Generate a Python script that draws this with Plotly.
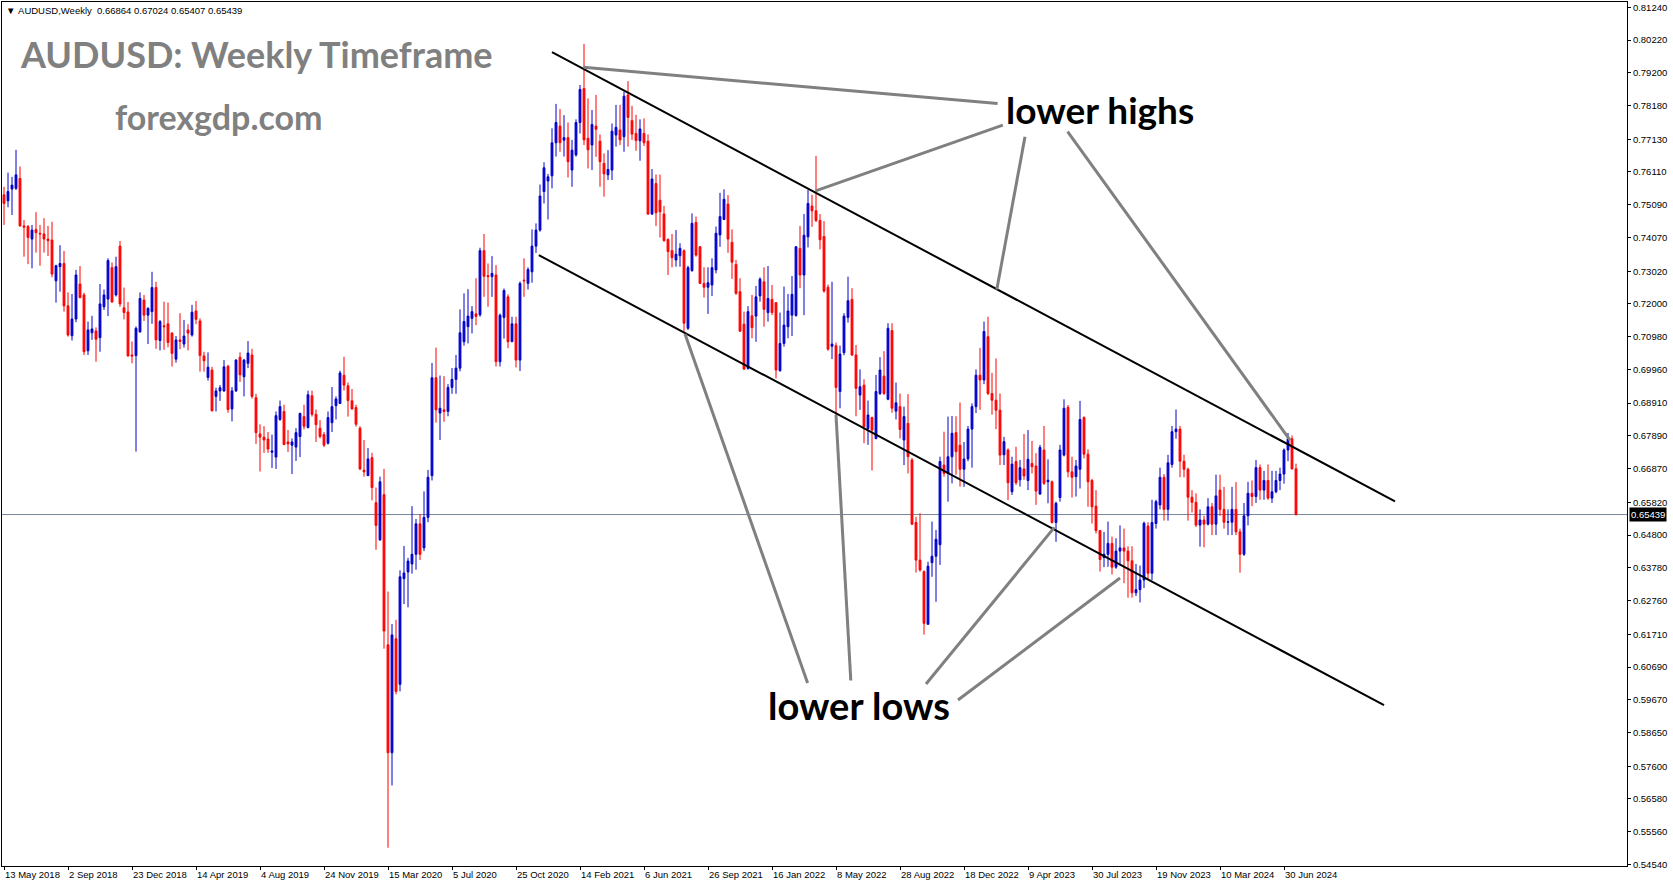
import pandas as pd
import plotly.graph_objects as go

# ---------------- weekly OHLC (AUDUSD, MT4 weekly bars starting 13 May 2018) ----------------
open_ = [
    0.7540, 0.7521, 0.7558, 0.7560, 0.7591, 0.7443, 0.7441, 0.7402, 0.7432, 0.7420,
    0.7418, 0.7402, 0.7399, 0.7272, 0.7316, 0.7326, 0.7194, 0.7101, 0.7153, 0.7262,
    0.7228, 0.7054, 0.7110, 0.7116, 0.7095, 0.7191, 0.7215, 0.7313, 0.7228, 0.7380,
    0.7188, 0.7175, 0.7041, 0.7039, 0.7113, 0.7212, 0.7165, 0.7176, 0.7251, 0.7086,
    0.7132, 0.7138, 0.7109, 0.7028, 0.7088, 0.7075, 0.7119, 0.7103, 0.7178, 0.7147,
    0.7038, 0.6971, 0.6994, 0.6912, 0.6929, 0.6929, 0.7006, 0.6873, 0.6929, 0.7034,
    0.6973, 0.7015, 0.7041, 0.6908, 0.6795, 0.6785, 0.6779, 0.6738, 0.6723, 0.6840,
    0.6865, 0.6770, 0.6760, 0.6754, 0.6787, 0.6849, 0.6815, 0.6914, 0.6856, 0.6813,
    0.6793, 0.6766, 0.6830, 0.6883, 0.6890, 0.6978, 0.6945, 0.6898, 0.6877, 0.6813,
    0.6682, 0.6665, 0.6721, 0.6581, 0.6465, 0.6606, 0.6138, 0.5802, 0.6157, 0.6015,
    0.6344, 0.6365, 0.6390, 0.6420, 0.6515, 0.6440, 0.6535, 0.6665, 0.6970, 0.6860,
    0.6870, 0.6865, 0.6940, 0.6965, 0.7000, 0.7082, 0.7129, 0.7155, 0.7169, 0.7166,
    0.7366, 0.7288, 0.7285, 0.7290, 0.7020, 0.7158, 0.7222, 0.7083, 0.7138, 0.7025,
    0.7274, 0.7264, 0.7300, 0.7380, 0.7430, 0.7550, 0.7583, 0.7599, 0.7702, 0.7754,
    0.7710, 0.7718, 0.7617, 0.7664, 0.7765, 0.7871, 0.7716, 0.7695, 0.7754, 0.7707,
    0.7638, 0.7602, 0.7617, 0.7726, 0.7742, 0.7721, 0.7851, 0.7771, 0.7731, 0.7708,
    0.7731, 0.7707, 0.7480, 0.7575, 0.7523, 0.7480, 0.7401, 0.7366, 0.7337, 0.7350,
    0.7366, 0.7124, 0.7304, 0.7454, 0.7378, 0.7264, 0.7252, 0.7259, 0.7306, 0.7415,
    0.7463, 0.7511, 0.7392, 0.7323, 0.7238, 0.7137, 0.6999, 0.7163, 0.7162, 0.7225,
    0.7269, 0.7173, 0.7214, 0.7204, 0.6992, 0.7077, 0.7129, 0.7165, 0.7164, 0.7373,
    0.7290, 0.7409, 0.7505, 0.7490, 0.7460, 0.7410, 0.7252, 0.7068, 0.7070, 0.6927,
    0.7048, 0.7158, 0.7214, 0.7041, 0.6916, 0.6947, 0.6812, 0.6846, 0.6781, 0.6921,
    0.6975, 0.6903, 0.7117, 0.6866, 0.6880, 0.6776, 0.6828, 0.6714, 0.6519, 0.6402,
    0.6366, 0.6202, 0.6394, 0.6414, 0.6450, 0.6698, 0.6672, 0.6724, 0.6799, 0.6760,
    0.6685, 0.6717, 0.6810, 0.6880, 0.6978, 0.6963, 0.7098, 0.6921, 0.6900, 0.6869,
    0.6730, 0.6745, 0.6615, 0.6709, 0.6652, 0.6686, 0.6650, 0.6703, 0.6695, 0.6608,
    0.6745, 0.6646, 0.6646, 0.6519, 0.6597, 0.6729, 0.6878, 0.6677, 0.6662, 0.6685,
    0.6846, 0.6732, 0.6650, 0.6570, 0.6494, 0.6410, 0.6420, 0.6454, 0.6380, 0.6430,
    0.6440, 0.6430, 0.6400, 0.6300, 0.6310, 0.6340, 0.6508, 0.6361, 0.6516, 0.6574,
    0.6660, 0.6560, 0.6700, 0.6802, 0.6810, 0.6710, 0.6685, 0.6598, 0.6582, 0.6511,
    0.6527, 0.6514, 0.6568, 0.6514, 0.6620, 0.6560, 0.6520, 0.6520, 0.6560, 0.6490,
    0.6420, 0.6540, 0.6610, 0.6600, 0.6690, 0.6620, 0.6650, 0.6595, 0.6615, 0.6650,
    0.6670, 0.6745, 0.6780, 0.66864,
]
high_ = [
    0.7565, 0.7609, 0.7596, 0.7680, 0.7628, 0.7461, 0.7446, 0.7446, 0.7486, 0.7446,
    0.7467, 0.7443, 0.7456, 0.7322, 0.7383, 0.7365, 0.7236, 0.7231, 0.7306, 0.7318,
    0.7235, 0.7145, 0.7163, 0.7127, 0.7262, 0.7245, 0.7342, 0.7329, 0.7347, 0.7396,
    0.7251, 0.7206, 0.7083, 0.7130, 0.7236, 0.7228, 0.7190, 0.7300, 0.7269, 0.7150,
    0.7207, 0.7204, 0.7112, 0.7100, 0.7171, 0.7150, 0.7137, 0.7197, 0.7209, 0.7155,
    0.7051, 0.7049, 0.7004, 0.6939, 0.6947, 0.7025, 0.7010, 0.6941, 0.7028, 0.7049,
    0.7029, 0.7084, 0.7060, 0.6920, 0.6825, 0.6819, 0.6801, 0.6793, 0.6865, 0.6899,
    0.6886, 0.6807, 0.6781, 0.6813, 0.6861, 0.6886, 0.6930, 0.6930, 0.6871, 0.6838,
    0.6801, 0.6865, 0.6941, 0.6912, 0.6992, 0.7035, 0.6955, 0.6935, 0.6886, 0.6819,
    0.6776, 0.6751, 0.6736, 0.6628, 0.6662, 0.6686, 0.6304, 0.6203, 0.6216, 0.6370,
    0.6446, 0.6409, 0.6570, 0.6530, 0.6545, 0.6616, 0.6683, 0.7016, 0.7064, 0.6977,
    0.6975, 0.6950, 0.7000, 0.7041, 0.7183, 0.7233, 0.7246, 0.7193, 0.7280, 0.7375,
    0.7418, 0.7326, 0.7349, 0.7321, 0.7170, 0.7248, 0.7230, 0.7160, 0.7160, 0.7270,
    0.7342, 0.7314, 0.7432, 0.7451, 0.7572, 0.7641, 0.7605, 0.7747, 0.7823, 0.7807,
    0.7788, 0.7765, 0.7711, 0.7775, 0.7882, 0.8010, 0.7840, 0.7804, 0.7851, 0.7728,
    0.7669, 0.7679, 0.7762, 0.7820, 0.7820, 0.7861, 0.7894, 0.7817, 0.7789, 0.7775,
    0.7778, 0.7728, 0.7620, 0.7603, 0.7603, 0.7505, 0.7404, 0.7418, 0.7430, 0.7389,
    0.7370, 0.7319, 0.7482, 0.7472, 0.7380, 0.7314, 0.7314, 0.7342, 0.7441, 0.7546,
    0.7557, 0.7539, 0.7432, 0.7337, 0.7280, 0.7176, 0.7193, 0.7228, 0.7256, 0.7283,
    0.7314, 0.7318, 0.7259, 0.7206, 0.7173, 0.7254, 0.7231, 0.7287, 0.7380, 0.7443,
    0.7480, 0.7555, 0.7540, 0.7661, 0.7480, 0.7458, 0.7260, 0.7269, 0.7080, 0.7070,
    0.7171, 0.7285, 0.7249, 0.7072, 0.6996, 0.6965, 0.6899, 0.6849, 0.6979, 0.7034,
    0.7053, 0.7140, 0.7140, 0.6955, 0.6921, 0.6880, 0.6919, 0.6720, 0.6537, 0.6548,
    0.6370, 0.6397, 0.6522, 0.6496, 0.6724, 0.6802, 0.6849, 0.6851, 0.6850, 0.6893,
    0.6770, 0.6820, 0.6890, 0.6996, 0.7063, 0.7145, 0.7160, 0.6985, 0.7030, 0.6921,
    0.6786, 0.6750, 0.6724, 0.6755, 0.6714, 0.6795, 0.6807, 0.6773, 0.6735, 0.6761,
    0.6820, 0.6716, 0.6650, 0.6584, 0.6761, 0.6903, 0.6885, 0.6724, 0.6714, 0.6898,
    0.6850, 0.6747, 0.6655, 0.6620, 0.6496, 0.6490, 0.6522, 0.6475, 0.6470, 0.6510,
    0.6500, 0.6445, 0.6445, 0.6390, 0.6385, 0.6522, 0.6520, 0.6590, 0.6590, 0.6690,
    0.6670, 0.6730, 0.6820, 0.6871, 0.6820, 0.6730, 0.6690, 0.6620, 0.6610, 0.6560,
    0.6540, 0.6595, 0.6580, 0.6668, 0.6668, 0.6630, 0.6560, 0.6630, 0.6645, 0.6500,
    0.6580, 0.6646, 0.6650, 0.6714, 0.6700, 0.6680, 0.6700, 0.6680, 0.6680, 0.6690,
    0.6750, 0.6798, 0.6790, 0.67024,
]
low_ = [
    0.7446, 0.7501, 0.7477, 0.7555, 0.7441, 0.7347, 0.7324, 0.7311, 0.7360, 0.7319,
    0.7360, 0.7349, 0.7283, 0.7204, 0.7238, 0.7176, 0.7098, 0.7086, 0.7143, 0.7217,
    0.7041, 0.7041, 0.7088, 0.7020, 0.7051, 0.7181, 0.7162, 0.7204, 0.7223, 0.7191,
    0.7152, 0.7036, 0.7015, 0.6740, 0.7110, 0.7147, 0.7075, 0.7138, 0.7060, 0.7055,
    0.7057, 0.7065, 0.7005, 0.7017, 0.7059, 0.7064, 0.7055, 0.7098, 0.7137, 0.6989,
    0.6989, 0.6961, 0.6865, 0.6865, 0.6898, 0.6926, 0.6861, 0.6834, 0.6926, 0.6957,
    0.6912, 0.7000, 0.6905, 0.6764, 0.6678, 0.6736, 0.6736, 0.6689, 0.6686, 0.6836,
    0.6760, 0.6739, 0.6670, 0.6711, 0.6723, 0.6809, 0.6812, 0.6849, 0.6770, 0.6781,
    0.6754, 0.6762, 0.6801, 0.6840, 0.6888, 0.6930, 0.6849, 0.6871, 0.6818, 0.6682,
    0.6662, 0.6664, 0.6588, 0.6434, 0.6462, 0.6126, 0.5506, 0.5700, 0.5984, 0.5993,
    0.6265, 0.6255, 0.6360, 0.6372, 0.6402, 0.6430, 0.6520, 0.6650, 0.6830, 0.6776,
    0.6833, 0.6850, 0.6920, 0.6920, 0.6990, 0.7070, 0.7077, 0.7108, 0.7134, 0.7160,
    0.7222, 0.7191, 0.7222, 0.7005, 0.7005, 0.7092, 0.7062, 0.7080, 0.7002, 0.6991,
    0.7222, 0.7245, 0.7266, 0.7359, 0.7425, 0.7513, 0.7463, 0.7560, 0.7659, 0.7674,
    0.7659, 0.7594, 0.7565, 0.7659, 0.7731, 0.7695, 0.7622, 0.7617, 0.7658, 0.7565,
    0.7534, 0.7586, 0.7586, 0.7690, 0.7695, 0.7674, 0.7690, 0.7711, 0.7677, 0.7646,
    0.7692, 0.7477, 0.7477, 0.7443, 0.7407, 0.7394, 0.7290, 0.7314, 0.7316, 0.7316,
    0.7114, 0.7119, 0.7300, 0.7347, 0.7262, 0.7220, 0.7169, 0.7225, 0.7295, 0.7378,
    0.7461, 0.7359, 0.7278, 0.7228, 0.7113, 0.6994, 0.6995, 0.7093, 0.7082, 0.7207,
    0.7129, 0.7145, 0.7165, 0.6968, 0.6989, 0.7067, 0.7093, 0.7100, 0.7160, 0.7249,
    0.7165, 0.7376, 0.7440, 0.7455, 0.7370, 0.7235, 0.7054, 0.7028, 0.6830, 0.6875,
    0.7040, 0.7142, 0.7038, 0.6850, 0.6870, 0.6766, 0.6761, 0.6681, 0.6778, 0.6916,
    0.6916, 0.6900, 0.6861, 0.6840, 0.6781, 0.6698, 0.6672, 0.6511, 0.6363, 0.6366,
    0.6170, 0.6212, 0.6350, 0.6272, 0.6387, 0.6662, 0.6584, 0.6641, 0.6668, 0.6631,
    0.6630, 0.6710, 0.6690, 0.6860, 0.6870, 0.6950, 0.6916, 0.6855, 0.6810, 0.6698,
    0.6698, 0.6589, 0.6605, 0.6636, 0.6631, 0.6652, 0.6620, 0.6672, 0.6574, 0.6605,
    0.6636, 0.6579, 0.6516, 0.6459, 0.6584, 0.6725, 0.6660, 0.6597, 0.6600, 0.6625,
    0.6719, 0.6568, 0.6516, 0.6485, 0.6366, 0.6380, 0.6381, 0.6357, 0.6375, 0.6385,
    0.6330, 0.6285, 0.6285, 0.6290, 0.6270, 0.6315, 0.6340, 0.6340, 0.6500, 0.6560,
    0.6525, 0.6525, 0.6690, 0.6780, 0.6660, 0.6660, 0.6525, 0.6550, 0.6505, 0.6444,
    0.6442, 0.6510, 0.6480, 0.6480, 0.6540, 0.6500, 0.6480, 0.6480, 0.6480, 0.6363,
    0.6415, 0.6510, 0.6570, 0.6580, 0.6590, 0.6590, 0.6590, 0.6580, 0.6610, 0.6620,
    0.6640, 0.6710, 0.6685, 0.65407,
]
close_ = [
    0.7513, 0.7550, 0.7570, 0.7602, 0.7443, 0.7439, 0.7407, 0.7430, 0.7422, 0.7418,
    0.7402, 0.7397, 0.7293, 0.7319, 0.7326, 0.7194, 0.7103, 0.7153, 0.7290, 0.7220,
    0.7051, 0.7119, 0.7122, 0.7090, 0.7200, 0.7228, 0.7335, 0.7206, 0.7316, 0.7200,
    0.7173, 0.7038, 0.7038, 0.7124, 0.7217, 0.7165, 0.7186, 0.7251, 0.7088, 0.7145,
    0.7129, 0.7080, 0.7046, 0.7088, 0.7083, 0.7100, 0.7109, 0.7174, 0.7152, 0.7039,
    0.7023, 0.7003, 0.6867, 0.6929, 0.6939, 0.7004, 0.6871, 0.6929, 0.7025, 0.6979,
    0.7025, 0.7047, 0.6912, 0.6799, 0.6785, 0.6776, 0.6748, 0.6742, 0.6852, 0.6880,
    0.6762, 0.6764, 0.6770, 0.6799, 0.6859, 0.6819, 0.6917, 0.6856, 0.6824, 0.6787,
    0.6760, 0.6846, 0.6880, 0.6904, 0.6985, 0.6947, 0.6899, 0.6873, 0.6825, 0.6686,
    0.6677, 0.6717, 0.6628, 0.6510, 0.6646, 0.6181, 0.5802, 0.6169, 0.5993, 0.6350,
    0.6362, 0.6399, 0.6420, 0.6515, 0.6420, 0.6535, 0.6660, 0.6970, 0.6870, 0.6875,
    0.6865, 0.6940, 0.6965, 0.7000, 0.7110, 0.7145, 0.7162, 0.7176, 0.7161, 0.7366,
    0.7286, 0.7285, 0.7295, 0.7020, 0.7165, 0.7242, 0.7082, 0.7138, 0.7025, 0.7264,
    0.7272, 0.7307, 0.7380, 0.7430, 0.7536, 0.7624, 0.7596, 0.7702, 0.7765, 0.7702,
    0.7718, 0.7643, 0.7679, 0.7765, 0.7868, 0.7711, 0.7680, 0.7759, 0.7744, 0.7643,
    0.7605, 0.7619, 0.7738, 0.7750, 0.7711, 0.7847, 0.7781, 0.7729, 0.7709, 0.7745,
    0.7702, 0.7480, 0.7589, 0.7484, 0.7487, 0.7397, 0.7363, 0.7344, 0.7355, 0.7373,
    0.7140, 0.7313, 0.7451, 0.7352, 0.7264, 0.7252, 0.7266, 0.7313, 0.7420, 0.7472,
    0.7526, 0.7402, 0.7330, 0.7233, 0.7115, 0.6997, 0.7176, 0.7126, 0.7222, 0.7277,
    0.7183, 0.7217, 0.7173, 0.6994, 0.7077, 0.7134, 0.7178, 0.7230, 0.7378, 0.7290,
    0.7414, 0.7513, 0.7490, 0.7460, 0.7400, 0.7240, 0.7059, 0.7075, 0.6940, 0.7044,
    0.7162, 0.7210, 0.7041, 0.6937, 0.6942, 0.6818, 0.6854, 0.6807, 0.6927, 0.6994,
    0.6921, 0.7124, 0.6875, 0.6892, 0.6809, 0.6849, 0.6724, 0.6514, 0.6402, 0.6371,
    0.6205, 0.6383, 0.6414, 0.6467, 0.6709, 0.6672, 0.6724, 0.6797, 0.6740, 0.6685,
    0.6717, 0.6810, 0.6880, 0.6978, 0.6963, 0.7114, 0.6921, 0.6900, 0.6869, 0.6729,
    0.6771, 0.6643, 0.6701, 0.6643, 0.6690, 0.6664, 0.6716, 0.6693, 0.6617, 0.6753,
    0.6641, 0.6651, 0.6519, 0.6579, 0.6745, 0.6875, 0.6677, 0.6660, 0.6695, 0.6840,
    0.6732, 0.6646, 0.6568, 0.6494, 0.6404, 0.6420, 0.6454, 0.6380, 0.6430, 0.6440,
    0.6430, 0.6400, 0.6300, 0.6310, 0.6340, 0.6517, 0.6361, 0.6519, 0.6584, 0.6660,
    0.6560, 0.6705, 0.6802, 0.6810, 0.6710, 0.6685, 0.6598, 0.6582, 0.6511, 0.6527,
    0.6514, 0.6568, 0.6514, 0.6602, 0.6560, 0.6520, 0.6521, 0.6560, 0.6490, 0.6420,
    0.6540, 0.6610, 0.6600, 0.6690, 0.6620, 0.6650, 0.6595, 0.6615, 0.6650, 0.6670,
    0.6745, 0.6780, 0.6686, 0.65439,
]

first_week = "2018-05-13"
last_price = 0.65439
header_ohlc = ["0.66864", "0.67024", "0.65407", "0.65439"]

price_ticks = [0.81240, 0.80220, 0.79200, 0.78180, 0.77130, 0.76110, 0.75090, 0.74070,
               0.73020, 0.72000, 0.70980, 0.69960, 0.68910, 0.67890, 0.66870, 0.65820,
               0.64800, 0.63780, 0.62760, 0.61710, 0.60690, 0.59670, 0.58650, 0.57600,
               0.56580, 0.55560, 0.54540]
date_ticks = ["13 May 2018", "2 Sep 2018", "23 Dec 2018", "14 Apr 2019", "4 Aug 2019",
              "24 Nov 2019", "15 Mar 2020", "5 Jul 2020", "25 Oct 2020", "14 Feb 2021",
              "6 Jun 2021", "26 Sep 2021", "16 Jan 2022", "8 May 2022", "28 Aug 2022",
              "18 Dec 2022", "9 Apr 2023", "30 Jul 2023", "19 Nov 2023", "10 Mar 2024",
              "30 Jun 2024"]

# trend lines anchored in (week number, price) like MT4 objects
channel_upper = [(137.0, 0.7984), (347.75, 0.6585)]
channel_lower = [(133.7, 0.7352), (345.0, 0.5950)]
highs_pointers = [[(248.4, 0.7824), (144.9, 0.7937)],
                  [(249.7, 0.7757), (202.9, 0.7552)],
                  [(255.25, 0.7721), (248.2, 0.7245)],
                  [(265.9, 0.7737), (321.5, 0.6776)]]
lows_pointers = [[(200.9, 0.6019), (170.25, 0.7106)],
                 [(211.7, 0.6027), (208.0, 0.6854)],
                 [(230.5, 0.6016), (262.6, 0.6504)],
                 [(238.5, 0.5966), (279.0, 0.6346)]]
view_weeks = (-0.5, 405.75)
view_prices = (0.54491, 0.81405)

START = pd.Timestamp(first_week)
dates = pd.date_range(START, periods=len(close_), freq="7D")


def wk(i):
    return START + pd.Timedelta(days=7 * i)


AX_FONT = dict(family="Liberation Sans, Arial, sans-serif", size=9.5, color="black")

fig = go.Figure()
fig.add_trace(go.Candlestick(
    x=dates, open=open_, high=high_, low=low_, close=close_,
    increasing=dict(line=dict(color="#0000CD", width=1), fillcolor="#0000CD"),
    decreasing=dict(line=dict(color="#FF0000", width=1), fillcolor="#FF0000"),
    whiskerwidth=0, showlegend=False, hoverinfo="skip",
))

shapes = []
shapes.append(dict(type="line", xref="paper", x0=0, x1=1, yref="y", y0=last_price, y1=last_price,
                   line=dict(color="#778899", width=1), layer="below"))
for seg in (channel_upper, channel_lower):
    (a, pa), (b, pb) = seg
    shapes.append(dict(type="line", xref="x", yref="y", x0=wk(a), y0=pa, x1=wk(b), y1=pb,
                       line=dict(color="black", width=2)))
for seg in highs_pointers + lows_pointers:
    (a, pa), (b, pb) = seg
    shapes.append(dict(type="line", xref="x", yref="y", x0=wk(a), y0=pa, x1=wk(b), y1=pb,
                       line=dict(color="#808080", width=3)))

annotations = [
    dict(xref="paper", yref="paper", x=0.0012, y=0.9896, xanchor="left", yanchor="middle",
         text="\u25BC\u00a0AUDUSD,Weekly\u00a0\u00a0" + "\u00a0".join(header_ohlc),
         showarrow=False, font=dict(family="Liberation Sans, Arial, sans-serif", size=9.5, color="black")),
    dict(xref="paper", yref="paper", x=0.0098, y=0.9395, xanchor="left", yanchor="middle",
         text="<b>AUDUSD: Weekly Timeframe</b>", showarrow=False,
         font=dict(family="Lato, sans-serif", size=36, color="#808080")),
    dict(xref="paper", yref="paper", x=0.0685, y=0.868, xanchor="left", yanchor="middle",
         text="<b>forexgdp.com</b>", showarrow=False,
         font=dict(family="Lato, sans-serif", size=34, color="#808080")),
    dict(xref="paper", yref="paper", x=0.6757, y=0.876, xanchor="center", yanchor="middle",
         text="<b>lower highs</b>", showarrow=False,
         font=dict(family="Lato, sans-serif", size=37, color="black")),
    dict(xref="paper", yref="paper", x=0.5274, y=0.186, xanchor="center", yanchor="middle",
         text="<b>lower lows</b>", showarrow=False,
         font=dict(family="Lato, sans-serif", size=38, color="black")),
    dict(xref="paper", yref="y", x=1, y=last_price, xanchor="left", yanchor="middle", xshift=2,
         text=f"{last_price:.5f}", showarrow=False, bgcolor="black", borderpad=1,
         font=dict(family="Liberation Sans, Arial, sans-serif", size=9.5, color="white")),
]

fig.update_layout(
    width=1673, height=888,
    margin=dict(l=2, r=46, t=2, b=22),
    paper_bgcolor="white", plot_bgcolor="white",
    shapes=shapes, annotations=annotations,
    showlegend=False,
    boxgap=0.35,
    xaxis=dict(
        type="date", range=[wk(view_weeks[0]), wk(view_weeks[1])],
        rangeslider=dict(visible=False), showgrid=False, zeroline=False,
        showline=True, mirror=True, linecolor="black", linewidth=1,
        ticks="outside", ticklen=3, tickcolor="black",
        tickvals=[pd.Timestamp(d) for d in date_ticks], ticktext=date_ticks,
        ticklabelposition="outside right", tickfont=AX_FONT,
    ),
    yaxis=dict(
        side="right", range=list(view_prices), showgrid=False, zeroline=False,
        showline=True, mirror=True, linecolor="black", linewidth=1,
        ticks="outside", ticklen=3, tickcolor="black",
        tickvals=price_ticks, ticktext=[f"{v:.5f}" for v in price_ticks],
        tickfont=AX_FONT,
    ),
)

fig.write_html(
    "out.html",
    config={"displayModeBar": False},
    post_script="document.body.style.margin='0';document.body.style.overflow='hidden';",
)
